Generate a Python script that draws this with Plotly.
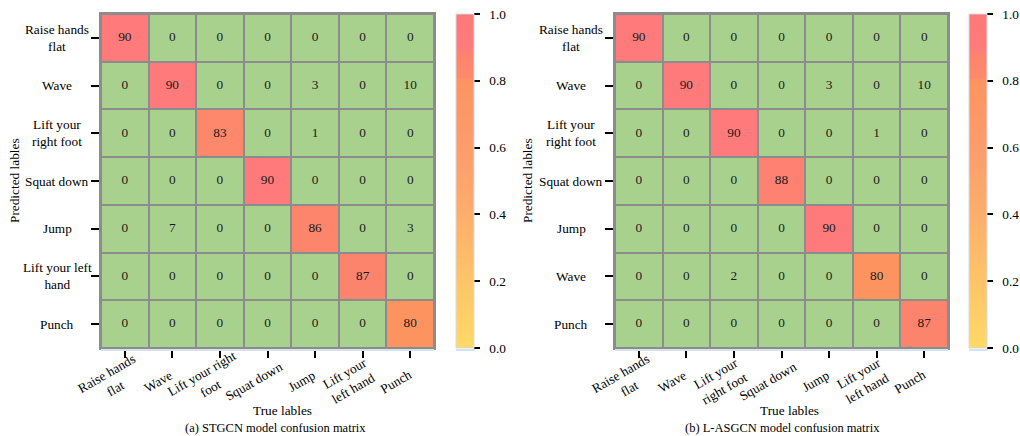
import plotly.graph_objects as go

# ---- data -------------------------------------------------------------
rows_a = ["Raise hands<br>flat", "Wave", "Lift your<br>right foot", "Squat down",
          "Jump", "Lift your left<br>hand", "Punch"]
cols_a = ["Raise hands<br>flat", "Wave", "Lift your right<br>foot", "Squat down",
          "Jump", "Lift your<br>left hand", "Punch"]
rows_b = ["Raise hands<br>flat", "Wave", "Lift your<br>right foot", "Squat down",
          "Jump", "Wave", "Punch"]
cols_b = ["Raise hands<br>flat", "Wave", "Lift your<br>right foot", "Squat down",
          "Jump", "Lift your<br>left hand", "Punch"]

stgcn = [
    [90, 0, 0, 0, 0, 0, 0],
    [0, 90, 0, 0, 3, 0, 10],
    [0, 0, 83, 0, 1, 0, 0],
    [0, 0, 0, 90, 0, 0, 0],
    [0, 7, 0, 0, 86, 0, 3],
    [0, 0, 0, 0, 0, 87, 0],
    [0, 0, 0, 0, 0, 0, 80],
]
lasgcn = [
    [90, 0, 0, 0, 0, 0, 0],
    [0, 90, 0, 0, 3, 0, 10],
    [0, 0, 90, 0, 0, 1, 0],
    [0, 0, 0, 88, 0, 0, 0],
    [0, 0, 0, 0, 90, 0, 0],
    [0, 0, 2, 0, 0, 80, 0],
    [0, 0, 0, 0, 0, 0, 87],
]
captions = ["(a) STGCN model confusion matrix", "(b) L-ASGCN model confusion matrix"]
cbar_ticks = [0.0, 0.2, 0.4, 0.6, 0.8, 1.0]

# ---- styling ----------------------------------------------------------
W, H = 1020, 436
FONT = "Liberation Serif"
FS = 13.3
GREEN = "#a9d18e"
GRID = "#8c8c8c"
SHADOW = "#d4e3ef"
DIAG_SCALE = [
    [0.0, "#ffd966"], [0.2, "#fec468"], [0.4, "#fdae6b"], [0.6, "#fd9c6c"],
    [0.8, "#fd9460"], [0.81, "#fd8a6c"], [0.87, "#fd846c"], [0.9, "#ff7b7b"],
    [1.0, "#ff7878"],
]

Y_BOT, Y_TOP = 348, 14
ydom = [1 - Y_BOT / H, 1 - Y_TOP / H]

panels = [
    dict(mat=stgcn, rows=rows_a, cols=cols_a, x0=101, x1=434, cb=456,
         ylab_x=57, ytitle_x=14, title_x=282, cap_x=275, cap=captions[0]),
    dict(mat=lasgcn, rows=rows_b, cols=cols_b, x0=615, x1=948, cb=969,
         ylab_x=571, ytitle_x=527, title_x=789, cap_x=782, cap=captions[1]),
]

fig = go.Figure()
annotations = []
shapes = []
layout_axes = {}

for k, p in enumerate(panels):
    sfx = "" if k == 0 else str(k + 1)
    xa, ya = "x" + sfx, "y" + sfx
    n = len(p["mat"])
    idx = list(range(n))

    # green base layer for every cell
    fig.add_trace(go.Heatmap(
        z=[[1] * n for _ in idx], x=idx, y=idx,
        colorscale=[[0, GREEN], [1, GREEN]], showscale=False,
        xgap=2, ygap=2, hoverinfo="skip", xaxis=xa, yaxis=ya))

    # diagonal cells coloured by their rate
    diag = [[p["mat"][i][j] / 100 if i == j else None for j in idx] for i in idx]
    fig.add_trace(go.Heatmap(
        z=diag, x=idx, y=idx, zmin=0, zmax=1, colorscale=DIAG_SCALE,
        xgap=2, ygap=2, hoverongaps=False, xaxis=xa, yaxis=ya,
        colorbar=dict(
            x=p["cb"] / W, xanchor="left", y=ydom[0], yanchor="bottom",
            len=ydom[1] - ydom[0], lenmode="fraction",
            thickness=18, thicknessmode="pixels", xpad=0, ypad=0,
            outlinewidth=1, outlinecolor="#d3dde6",
            tickvals=cbar_ticks,
            ticktext=["\u00a0\u00a0" + f"{v:.1f}" for v in cbar_ticks],
            ticks="outside", ticklen=6, tickwidth=1.5, tickcolor="black",
            tickfont=dict(family=FONT, size=FS, color="black"))))

    # cell values
    fig.add_trace(go.Scatter(
        x=[j for i in idx for j in idx], y=[i for i in idx for j in idx],
        text=[str(p["mat"][i][j]) for i in idx for j in idx],
        mode="text", textfont=dict(family=FONT, size=FS, color="#1a1a1a"),
        hoverinfo="skip", showlegend=False, xaxis=xa, yaxis=ya))

    axis_common = dict(
        tickvals=idx, showticklabels=False, ticks="outside", ticklen=8,
        tickwidth=1.5, tickcolor="black", showgrid=False, zeroline=False,
        showline=True, mirror=True, linecolor=GRID, linewidth=2,
        range=[-0.5, n - 0.5])
    layout_axes["xaxis" + sfx] = dict(
        axis_common, domain=[p["x0"] / W, p["x1"] / W], anchor=ya)
    layout_axes["yaxis" + sfx] = dict(
        axis_common, domain=ydom, anchor=xa, range=[n - 0.5, -0.5])

    # faint underline beneath the matrix and the colour bar
    for sx0, sx1 in ((p["x0"], p["x1"]), (p["cb"], p["cb"] + 19)):
        shapes.append(dict(
            type="line", xref="paper", yref="paper",
            x0=sx0 / W, x1=sx1 / W, y0=1 - (Y_BOT + 2) / H, y1=1 - (Y_BOT + 2) / H,
            line=dict(color=SHADOW, width=2)))

    # row labels (centred, multi-line)
    for i, lab in enumerate(p["rows"]):
        annotations.append(dict(
            text=lab, x=p["ylab_x"] / W, xref="paper", y=i, yref=ya,
            xanchor="center", yanchor="middle", align="center", showarrow=False,
            font=dict(family=FONT, size=FS, color="black")))
    # column labels (rotated)
    for j, lab in enumerate(p["cols"]):
        annotations.append(dict(
            text=lab, x=j, xref=xa, y=1 - 381 / H, yref="paper", xshift=-14,
            textangle=-30, xanchor="center", yanchor="middle", align="center",
            showarrow=False, font=dict(family=FONT, size=FS, color="black")))

    # axis titles and caption
    annotations.append(dict(
        text="Predicted lables", x=p["ytitle_x"] / W, xref="paper",
        y=1 - 181 / H, yref="paper", textangle=-90, showarrow=False,
        xanchor="center", yanchor="middle",
        font=dict(family=FONT, size=FS, color="black")))
    annotations.append(dict(
        text="True lables", x=p["title_x"] / W, xref="paper",
        y=1 - 410 / H, yref="paper", showarrow=False,
        xanchor="center", yanchor="middle",
        font=dict(family=FONT, size=FS, color="black")))
    annotations.append(dict(
        text=p["cap"], x=p["cap_x"] / W, xref="paper",
        y=1 - 428 / H, yref="paper", showarrow=False,
        xanchor="center", yanchor="middle",
        font=dict(family=FONT, size=12.5, color="black")))

fig.update_layout(
    width=W, height=H, margin=dict(l=0, r=0, t=0, b=0),
    paper_bgcolor="white", plot_bgcolor=GRID, showlegend=False,
    annotations=annotations, shapes=shapes, **layout_axes)

fig.write_html("out.html")
